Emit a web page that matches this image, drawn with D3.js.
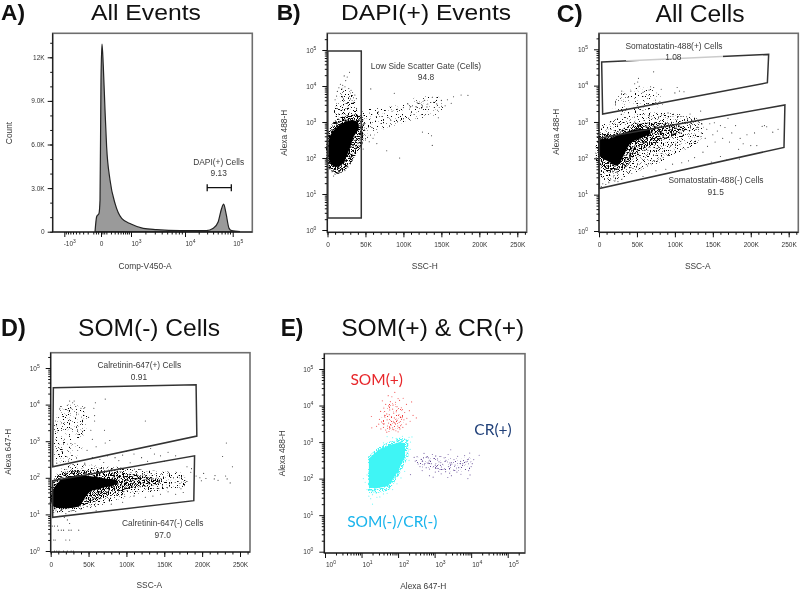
<!DOCTYPE html>
<html>
<head>
<meta charset="utf-8">
<script src="https://cdnjs.cloudflare.com/ajax/libs/d3/7.8.5/d3.min.js"></script>
<style>
  html, body { margin: 0; background: #fff; }
  svg { display: block; font-family: "Liberation Sans", Arial, sans-serif; filter: blur(0.3px); }
  .tick text { font-size: 6.5px; fill: #333; }
  .tick line, .edge { stroke: #111; }
  .domain { display: none; }
  .note { font-size: 8.4px; fill: #3a3a3a; text-anchor: middle; }
  .title { fill: #111; text-anchor: middle; }
  .tag { font-weight: bold; fill: #111; }
  .pop { font-family: Lato, "Open Sans", sans-serif; font-size: 15.5px; text-anchor: middle; }
  .gate { fill: none; stroke: #333; stroke-width: 1.5; }
</style>
</head>
<body>
<svg id="chart" width="800" height="590"></svg>
<script>
{
  /* Panel A: histogram of Comp-V450-A */
  var histChannel = [-81, -57, -25, -12, 0, 15, 36, 65, 95, 166, 295, 524, 1000, 1780, 3160, 8130, 28400, 39400, 50000, 58800, 64800, 72600, 84000, 95000, 142000];
  var histCount = [0, 1030, 1260, 2180, 10440, 12900, 11360, 8375, 5850, 3560, 1950, 920, 530, 230, 140, 70, 70, 230, 690, 1600, 1900, 1260, 230, 70, 0];
  var biexTicks = [-1000, 0, 1000, 10000, 100000];
  var countTicks = [0, 3000, 6000, 9000, 12000];
  var dapiBracket = [29400, 93600];

  /* Scatter panels: [SSC in thousands, log10 of intensity].
     Core, Dense, Sparse and Faint are outlines of the areas where the dots are too many to read one by one */
  var bCore = [[1.2,2.2],[3,2.6],[10.4,2.82],[21.3,2.98],[32.3,3.05],[39.8,3],[41.1,2.82],[34.5,2.59],[30.1,2.31],[24.8,2.03],[19.1,1.82],[10.4,1.75],[3,1.89]];
  var bDense = [[0.8,1.75],[1.6,2.75],[12.5,3.08],[39,3.2],[46.5,3.12],[47,2.45],[38,2.12],[27,1.75],[12.5,1.56]];
  var bSparse = [[9,3.15],[13,3.6],[20,3.95],[30,3.85],[37,3.5],[40,3.15]];
  var bFaint = [[45,3.28],[80,3.42],[122,3.7],[150,3.65],[150,3.3],[110,3.05],[80,2.85],[45,2.5]];
  var bDots = [[29,4.38],[26,4.25],[22,4.28],[24,4.15],[20,4.02],[17,4.05],[15,3.95],[19,3.92],[23,3.98],[28,3.93],[31,3.88],[13,3.85],[33,3.82],[36,3.75],[12,3.72],[38,3.65],[10,3.62],[34,3.55],
    [67,3.28],[85,3.3],[92,3.35],[100,3.4],[106,3.5],[112,3.45],[118,3.55],[124,3.48],[128,3.6],[132,3.5],[138,3.68],[140,3.55],[144,3.5],[146,3.12],[150,3.6],[155,3.45],[158,3.62],[163,3.52],[166,3.7],[176,3.75],[185,3.74],
    [109,3.42],[117,3.42],[121,3.52],[125,3.42],[131,3.42],[78,2.2],[95,2],[125,2.72],[133,2.68],[138,2.35],[137,2.62],[57,3.92],[88,3.8],[50,2.5],[55,2.45],[60,2.55],[65,2.4],
    [47,2.25],[40,2.4],[38,2.3],[36,2.15],[33,2.05],[30,1.9],[27,1.75],[23,1.65],[18,1.6],[14,1.58],[10,1.55],[8,1.5],[6,1.62],[4,1.7]];
  var bGate = [[0.4,4.97],[44.5,4.97],[44.5,0.33],[0.4,0.33]];

  var cCore = [[1,2.5],[15,2.55],[30,2.68],[50,2.8],[66,2.78],[68,2.68],[58,2.58],[42,2.42],[32,2.05],[24,1.8],[12,1.92],[2,2.05]];
  var cDense = [[0.3,2.6],[20,2.72],[50,2.95],[95,2.95],[115,2.8],[90,2.55],[70,2.35],[50,2.1],[35,1.75],[20,1.6],[3,1.75]];
  var cSparse = [[0.3,2.8],[25,3.1],[60,3.25],[110,3.2],[135,3],[135,2.55],[100,2.1],[70,1.8],[40,1.55],[15,1.35],[1,1.5]];
  var cFaint = [[18,3.25],[30,3.8],[70,3.9],[85,3.5],[60,3.3],[30,3.2]];
  var cDots = [[72,4.38],[52,4.2],[51,4.1],[47,4.05],[53,3.98],[68,3.97],[72,3.95],[30,3.85],[34,3.78],[42,3.85],[58,3.82],[66,3.88],[82,3.9],[103,3.95],[106,3.85],[100,3.8],[112,3.83],[91,3.25],[134,3.3],[120,3.22],[152,2.98],
    [130,2.85],[135,2.7],[140,2.55],[142,2.8],[146,2.95],[150,2.65],[153,2.45],[156,2.75],[160,2.9],[163,2.55],[166,2.85],[170,3.1],[172,2.45],[175,2.7],[180,2.9],[184,2.25],[186,2.55],[190,2.4],[195,2.65],[200,2.35],[205,2.7],[208,2.35],[215,2.88],[218,2.9],[221,2.87],[229,2.72],[236,2.8],[160,2.05],[148,1.9],[168,1.95],[185,1.98],[143,2.33],[137,2.17],[126,2.02],[118,1.93],[109,1.88],[97,1.84],[88,1.7],[75,1.66],[58,1.5],
    [5,1.3],[9,1.28],[13,1.33],[17,1.25],[21,1.38],[25,1.36],[30,1.42],[3,1.22]];
  var cSomPlusGate = [[3.5,4.65],[223.6,4.86],[221.9,4.08],[4.8,3.22]];
  var cSomMinusGate = [[0.4,2.55],[245,3.47],[243.8,2.3],[0.4,1.17]];

  var dCore = [[3,1.65],[14,1.95],[30,2.05],[50,2.05],[72,1.98],[88,1.92],[84,1.8],[68,1.72],[52,1.62],[43,1.38],[38,1.23],[3,1.23]];
  var dDense = [[2.6,1.85],[16,2.15],[47,2.2],[90,2.15],[125,2.05],[148,1.95],[140,1.82],[110,1.72],[75,1.5],[45,1.25],[2.6,1.2]];
  var dSparse = [[2.6,1.9],[20,2.33],[70,2.33],[130,2.2],[175,2.1],[178,1.8],[130,1.6],[90,1.4],[50,1.17],[2.6,1.1]];
  var dFaint = [[11,3.9],[46,3.9],[44,3],[36,2.55],[9,2.45]];
  var dDots = [[31,4.1],[25,4.1],[29,4.05],[72,4.15],[13,3.95],[12,3.9],[22,3.98],[27,3.9],[33,3.95],[40,3.9],[45,3.92],[59,4.05],[57,3.9],[58,3.7],[58,3.55],[50,3.65],[53,3.3],[55,3.05],[60,2.85],[71,3.3],[72,2.95],[125,3.55],[78,3.02],[48,2.75],[8,2.4],[3,2.35],
    [55,2.55],[65,2.5],[75,2.6],[85,2.55],[95,2.62],[100,2.72],[110,2.65],[120,2.55],[132,2.8],[137,2.65],[145,2.6],[155,2.7],[165,2.6],[45,2.4],[70,2.42],[90,2.47],[105,2.41],[128,2.45],[150,2.45],[180,2.3],[186,2.25],
    [185,2.15],[172,1.7],[180,1.9],[165,1.55],[175,1.6],[155,1.62],[145,1.55],[135,1.5],[125,1.47],[110,1.5],[95,1.33],[80,1.28],[60,1.1],[4,1.05],[7,1.12],[12,1.08],[15,1.14],[20,1.02],[27,1.1],[33,1.08],[40,1.15],[48,1.22],
    [202,2.12],[205,1.98],[197,2],[192,2.05],[199,1.92],[216,1.97],[217,2.06],[221,1.93],[233,1.97],[231,2.05],[237,1.86],[240,2.3],[227,2.58],[232,2.95],
    [2,0.68],[5,0.68],[9,0.68],[10,0.57],[14,0.57],[17,0.57],[24,0.57],[27,0.57],[37,0.57],[4,0.3],[6,0.3],[20,0.3],[25,0.3],[5,0],[8,0],[11,0],[17,0],[22,0],[27,0],[30,0],[22,0.85],[25,0.75],[18,0.92],[12,0.95]];
  var dCrPlusGate = [[3.5,4.46],[192,4.545],[193,3.14],[2.6,2.3]];
  var dCrMinusGate = [[2.6,1.92],[190,2.6],[189,1.375],[2.6,0.92]];

  /* Panel E: [log10 Alexa 647, log10 Alexa 488] */
  var eCyanCore = [[1.2,2.55],[1.46,2.78],[1.78,2.92],[2.05,3],[2.19,2.96],[2.19,2.6],[1.96,2.14],[1.73,1.8],[1.37,1.73],[1.2,1.78]];
  var eCyanDense = [[1.18,2.6],[1.45,2.85],[1.75,3],[2.05,3.12],[2.28,3.08],[2.28,2.6],[2,2.05],[1.75,1.68],[1.35,1.58],[1.18,1.62]];
  var eRedSparse = [[1.6,3.95],[1.85,4.1],[2.05,3.95],[2.15,3.6],[2.05,3.38],[1.65,3.35],[1.55,3.6]];
  var ePurpleFaint = [[2.5,2.55],[3,2.62],[3.6,2.55],[4,2.55],[4,2.25],[3.4,2.2],[2.9,2.28],[2.55,2.35]];
  var eCyanDots = [[1.15,2.1],[1.05,2],[1.15,1.7],[1.2,1.52],[1.3,1.56],[1.42,1.49],[1.5,1.5],[1.6,1.58],[1.7,1.6],[1.25,1.45],[1.85,1.7],[1.97,1.86],[2.08,2.02],[2.18,2.2],[2.3,2.5],[2.33,2.8],[2.34,3],[2.3,3.13],[2.38,3.14],[2.12,3.16],[1.95,3.1],[1.85,3.12],[1.7,3.15],[1.6,2.98],[1.1,1.9],[1.3,1.3]];
  var eRedDots = [[1.91,4.36],[1.73,4.27],[2,4.19],[1.83,4.24],[2.14,4.2],[1.57,4.13],[1.79,4.11],[1.93,4.09],[2.04,4.14],[1.66,4.03],[1.86,4.01],[1.97,3.97],[2.23,4.03],[2.37,4.1],[1.61,3.93],[1.74,3.99],[1.85,3.9],[2.09,3.94],[2.31,3.86],[1.52,3.84],[1.77,3.88],[1.95,3.83],[2.12,3.89],[1.69,3.77],[1.88,3.79],[2.01,3.74],[2.18,3.81],[2.41,3.73],[1.27,3.7],[1.63,3.69],[1.76,3.75],[1.9,3.66],[2.06,3.69],[2.24,3.65],[1.49,3.62],[1.7,3.61],[1.82,3.7],[1.97,3.6],[2.11,3.67],[2.5,3.66],[1.55,3.55],[1.74,3.52],[1.87,3.57],[2.03,3.54],[2.16,3.61],[2.33,3.57],[1.47,3.49],[1.62,3.5],[1.8,3.47],[1.92,3.51],[2.07,3.45],[2.22,3.49],[1.41,3.43],[1.6,3.4],[1.71,3.44],[1.85,3.39],[1.99,3.44],[2.13,3.4],[1.53,3.36],[1.66,3.33],[1.78,3.38],[1.94,3.31],[2.05,3.36],[1.28,3.39],[1.75,3.29],[1.88,3.34],[2,3.28],[1.69,3.27]];
  var ePurpleDots = [[2.52,2.6],[2.63,2.53],[2.71,2.69],[2.83,2.57],[2.94,2.66],[3.03,2.62],[2.55,2.4],[2.67,2.47],[2.77,2.58],[2.87,2.49],[2.98,2.55],[3.08,2.51],[3.17,2.44],[3.26,2.57],[3.37,2.66],[3.44,2.79],[2.47,2.48],[2.6,2.33],[2.72,2.38],[2.82,2.43],[2.91,2.41],[3.02,2.37],[3.12,2.46],[3.22,2.39],[3.31,2.5],[3.42,2.43],[3.53,2.52],[3.63,2.61],[3.71,2.47],[3.82,2.63],[3.9,2.52],[3.96,2.7],[4.22,2.64],[2.66,2.22],[2.77,2.3],[2.86,2.26],[2.97,2.33],[3.07,2.28],[3.16,2.36],[3.27,2.27],[3.38,2.33],[3.47,2.4],[3.56,2.37],[3.66,2.3],[3.77,2.41],[3.86,2.46],[4,2.33],[3.93,2.22],[4.03,2.41],[4.07,2.52],[3.18,2.13],[3.3,2.19],[3.41,2.15],[3.52,2.23],[3.61,2.18],[3.72,2.12],[3.02,2.18],[2.86,2.08],[3.91,2],[3.97,2.1],[3.36,2.03],[2.34,2.11],[2.44,2.58],[3.46,2.08],[3.11,2.2],[2.96,2.04]];

  var decades = [0, 1, 2, 3, 4, 5];
  var sscTicks = [0, 50, 100, 150, 200, 250];

  var svg = d3.select("#chart");

  // speckled fills for the merged dot areas: noise thresholded at three levels
  var defs = svg.append("defs");
  [["dense", 0.46], ["sparse", 0.585], ["faint", 0.625]].forEach(function (f) {
    var flt = defs.append("filter").attr("id", f[0]).attr("color-interpolation-filters", "sRGB")
      .attr("x", "-5%").attr("y", "-5%").attr("width", "110%").attr("height", "110%");
    flt.append("feTurbulence").attr("type", "fractalNoise").attr("baseFrequency", 0.85).attr("numOctaves", 2).attr("seed", 4).attr("result", "noise");
    flt.append("feColorMatrix").attr("in", "noise").attr("type", "matrix")
      .attr("values", "0 0 0 0 0 0 0 0 0 0 0 0 0 0 0 9 0 0 0 " + (-9 * f[1])).attr("result", "speck");
    flt.append("feComposite").attr("in", "SourceGraphic").attr("in2", "speck").attr("operator", "in");
  });

  var logMinor = [];
  decades.forEach(function (e) {
    d3.range(2, 10).forEach(function (m) { if (e < 5 || m < 3) logMinor.push(e + Math.log10(m)); });
  });
  var sscMinor = d3.range(0, 261, 10);

  function outline(x, y) {
    return d3.line().x(function (d) { return x(d[0]); }).y(function (d) { return y(d[1]); });
  }

  // writes 10 with the decade as a raised exponent
  function powerLabel(sel, fmt) {
    sel.selectAll(".tick text").each(function (d) {
      var t = d3.select(this).text(null);
      t.append("tspan").text(fmt(d));
      t.append("tspan").attr("dy", "-3").attr("font-size", "5px").text(Math.abs(d));
    });
  }

  function frame(box) {
    var g = svg.append("g");
    g.append("rect")
      .attr("x", box.left).attr("y", box.top)
      .attr("width", box.right - box.left).attr("height", box.bottom - box.top)
      .attr("fill", "none").attr("stroke", "#6e6e6e").attr("stroke-width", 1.6);
    g.append("line").attr("class", "edge").attr("x1", box.left).attr("x2", box.left).attr("y1", box.top).attr("y2", box.bottom);
    g.append("line").attr("class", "edge").attr("x1", box.left).attr("x2", box.right).attr("y1", box.bottom).attr("y2", box.bottom);
    return g;
  }

  function logAxisY(box, y) {
    var g = svg.append("g").attr("transform", "translate(" + box.left + ",0)");
    g.append("g").call(d3.axisLeft(y).tickValues(logMinor).tickSize(2.5).tickFormat(""));
    g.append("g").call(d3.axisLeft(y).tickValues(decades).tickSize(5).tickPadding(6).tickFormat(function (d) { return d; }))
      .call(powerLabel, function () { return "10"; });
  }

  function sscAxisX(box, x) {
    var g = svg.append("g").attr("transform", "translate(0," + box.bottom + ")");
    g.append("g").call(d3.axisBottom(x).tickValues(sscMinor).tickSize(2.5).tickFormat(""));
    g.append("g").call(d3.axisBottom(x).tickValues(sscTicks).tickSize(5).tickPadding(5)
      .tickFormat(function (d) { return d ? d + "K" : "0"; }));
  }

  function note(text, x, y) {
    svg.append("text").attr("class", "note").attr("x", x).attr("y", y).text(text);
  }
  function sideNote(text, x, y) {
    svg.append("text").attr("class", "note").attr("transform", "translate(" + x + "," + y + ") rotate(-90)").text(text);
  }
  // tag and title are stretched to the widths of the originals
  function heading(tag, tagX, tagWide, text, textX, textWide, base, size) {
    svg.append("text").attr("class", "tag").attr("x", tagX).attr("y", base).attr("font-size", size)
      .attr("textLength", tagWide).attr("lengthAdjust", "spacingAndGlyphs").text(tag);
    svg.append("text").attr("class", "title").attr("x", textX).attr("y", base).attr("font-size", size)
      .attr("textLength", textWide).attr("lengthAdjust", "spacingAndGlyphs").text(text);
  }

  function dots(data, x, y, color, r, opacity) {
    svg.append("g").attr("fill", color).attr("fill-opacity", opacity)
      .selectAll("circle").data(data).join("circle")
      .attr("cx", function (d) { return x(d[0]); })
      .attr("cy", function (d) { return y(d[1]); })
      .attr("r", r);
  }

  function blob(data, x, y, color, speck, curve) {
    var p = svg.append("path")
      .attr("d", outline(x, y).curve(curve || d3.curveCatmullRomClosed)(data))
      .attr("fill", color);
    if (speck) p.attr("filter", "url(#" + speck + ")");
  }

  function gate(data, x, y) {
    svg.append("path").attr("class", "gate").attr("d", outline(x, y).curve(d3.curveLinearClosed)(data));
  }

  function scatterPanel(box, x0, x250, y0, y5, layers, pts) {
    var x = d3.scaleLinear().domain([0, 250]).range([x0, x250]);
    var y = d3.scaleLinear().domain([0, 5]).range([y0, y5]);
    frame(box);
    logAxisY(box, y);
    sscAxisX(box, x);
    blob(layers.faint, x, y, "#000", "faint");
    blob(layers.sparse, x, y, "#000", "sparse");
    blob(layers.dense, x, y, "#000", "dense");
    blob(layers.core, x, y, "#000");
    dots(pts, x, y, "#000", 0.55, 0.8);
    return { x: x, y: y };
  }

  /* A */
  {
    var boxA = { left: 52.7, right: 252.3, top: 33.3, bottom: 232 };
    var biex = function (v) { return Math.sign(v) * Math.log10(1 + Math.abs(v) / 300); };
    var xBiex = d3.scaleLinear().domain(biexTicks.map(biex)).range([64.3, 101, 131, 185, 232.7]);
    var xA = function (v) { return xBiex(biex(v)); };
    var yA = d3.scaleLinear().domain([0, 12000]).range([231.7, 57.3]);

    frame(boxA);

    var gy = svg.append("g").attr("transform", "translate(" + boxA.left + ",0)");
    gy.append("g").call(d3.axisLeft(yA).tickValues(d3.range(0, 14000, 1000)).tickSize(2.5).tickFormat(""));
    gy.append("g").call(d3.axisLeft(yA).tickValues(countTicks).tickSize(5).tickPadding(3)
      .tickFormat(function (d) { return d ? (d / 1000).toFixed(d >= 12000 ? 0 : 1) + "K" : "0"; }));

    // biexponential axis drawn through a shifted copy of the decade scale
    var xAxisScale = d3.scaleLinear().domain(biexTicks).range(biexTicks.map(xA));
    var minorX = [-900, -800, -700, -600, -500, -400, -300, -200, -100, -60, -30, 30, 60, 100, 200, 300, 400, 500, 600, 700, 800, 900];
    [1000, 10000].forEach(function (b) { d3.range(2, 10).forEach(function (m) { minorX.push(b * m); }); });
    var gx = svg.append("g").attr("transform", "translate(0," + boxA.bottom + ")");
    gx.append("g").selectAll("line").data(minorX).join("line")
      .attr("x1", xA).attr("x2", xA).attr("y1", 0).attr("y2", 2.5).attr("stroke", "#111");
    gx.append("g").call(d3.axisBottom(xAxisScale).tickValues(biexTicks).tickSize(5).tickPadding(4)
      .tickFormat(function (d) { return d; }))
      .selectAll(".tick text").each(function (d) {
        var t = d3.select(this).text(null);
        if (d === 0) { t.text("0"); return; }
        var e = Math.round(Math.log10(Math.abs(d)));
        t.attr("dx", 5);
        t.append("tspan").text(d < 0 ? "-10" : "10");
        t.append("tspan").attr("dy", "-3").attr("font-size", "5px").text(e);
      });

    var hist = d3.zip(histChannel, histCount);
    svg.append("path")
      .attr("d", d3.area().curve(d3.curveMonotoneX).x(function (d) { return xA(d[0]); }).y0(yA(0)).y1(function (d) { return yA(d[1]); })(hist))
      .attr("fill", "#9a9a9a").attr("stroke", "#222").attr("stroke-width", 1.2);

    svg.append("path")
      .attr("d", "M" + xA(dapiBracket[0]) + "," + (yA(3030) - 3.5) + "v7m0,-3.5H" + xA(dapiBracket[1]) + "m0,-3.5v7")
      .attr("fill", "none").attr("stroke", "#111").attr("stroke-width", 1.3);

    note("DAPI(+) Cells", 218.7, 164.5);
    note("9.13", 218.7, 176);
    note("Comp-V450-A", 145, 269);
    sideNote("Count", 12, 133);
    heading("A)", 1, 24, "All Events", 146, 110, 20, 22);
  }

  /* B */
  {
    var pB = scatterPanel({ left: 327.3, right: 526.7, top: 33.3, bottom: 232.3 }, 327.5, 517.3, 230, 50,
      { core: bCore, dense: bDense, sparse: bSparse, faint: bFaint }, bDots);
    gate(bGate, pB.x, pB.y);
    note("Low Side Scatter Gate (Cells)", 426, 68.5);
    note("94.8", 426, 80);
    note("SSC-H", 424.7, 269);
    sideNote("Alexa 488-H", 287, 132.7);
    heading("B)", 276.7, 24, "DAPI(+) Events", 426, 170, 20, 22);
  }

  /* C */
  {
    var pC = scatterPanel({ left: 599, right: 798.3, top: 33.3, bottom: 232.3 }, 599, 788.7, 231, 49.3,
      { core: cCore, dense: cDense, sparse: cSparse, faint: cFaint }, cDots);
    gate(cSomPlusGate, pC.x, pC.y);
    gate(cSomMinusGate, pC.x, pC.y);
    svg.append("rect").attr("x", 626).attr("y", 39).attr("width", 97).attr("height", 22).attr("fill", "#fff").attr("fill-opacity", 0.75);
    note("Somatostatin-488(+) Cells", 674, 48.5);
    note("1.08", 673.3, 60);
    note("Somatostatin-488(-) Cells", 716, 183);
    note("91.5", 715.7, 195);
    note("SSC-A", 697.7, 269);
    sideNote("Alexa 488-H", 558.5, 131.7);
    heading("C)", 556.7, 26, "All Cells", 700, 89, 21.5, 23);
  }

  /* D */
  {
    var pD = scatterPanel({ left: 50.7, right: 250, top: 352.7, bottom: 552 }, 50.7, 240, 551, 368,
      { core: dCore, dense: dDense, sparse: dSparse, faint: dFaint }, dDots);
    gate(dCrPlusGate, pD.x, pD.y);
    gate(dCrMinusGate, pD.x, pD.y);
    note("Calretinin-647(+) Cells", 139.3, 368);
    note("0.91", 139, 379.5);
    note("Calretinin-647(-) Cells", 162.7, 526);
    note("97.0", 162.7, 538);
    note("SSC-A", 149.3, 588);
    sideNote("Alexa 647-H", 10.5, 451.7);
    heading("D)", 1, 24.7, "SOM(-) Cells", 149, 142, 336, 24);
  }

  /* E */
  {
    var boxE = { left: 324.3, right: 525, top: 353.7, bottom: 553 };
    var xE = d3.scaleLinear().domain([0, 5]).range([325, 507.7]);
    var yE = d3.scaleLinear().domain([0, 5]).range([551.7, 369]);
    frame(boxE);
    logAxisY(boxE, yE);

    var gxE = svg.append("g").attr("transform", "translate(0," + boxE.bottom + ")");
    gxE.append("g").call(d3.axisBottom(xE).tickValues(logMinor).tickSize(2.5).tickFormat(""));
    gxE.append("g").call(d3.axisBottom(xE).tickValues(decades).tickSize(5).tickPadding(4).tickFormat(function (d) { return d; }))
      .call(powerLabel, function () { return "10"; })
      .selectAll(".tick text").attr("dx", 5.5);

    blob(eCyanDense, xE, yE, "#3ff5f5", "dense", d3.curveLinearClosed);
    blob(eCyanCore, xE, yE, "#3ff5f5", null, d3.curveLinearClosed);
    dots(eCyanDots, xE, yE, "#3ff5f5", 0.6, 0.7);
    blob(eRedSparse, xE, yE, "#ee3030", "faint");
    dots(eRedDots, xE, yE, "#ee3030", 0.6, 0.75);
    blob(ePurpleFaint, xE, yE, "#5c4190", "faint");
    dots(ePurpleDots, xE, yE, "#5c4190", 0.6, 0.75);

    svg.append("text").attr("class", "pop").attr("x", 376.7).attr("y", 385).attr("fill", "#e8262a").text("SOM(+)");
    svg.append("text").attr("class", "pop").attr("x", 493).attr("y", 435).attr("fill", "#1f3f78").text("CR(+)");
    svg.append("text").attr("class", "pop").attr("x", 392.3).attr("y", 526.7).attr("fill", "#19b4ec").text("SOM(-)/CR(-)");

    note("Alexa 647-H", 423.3, 589);
    sideNote("Alexa 488-H", 284.5, 453.3);
    heading("E)", 280.7, 22.7, "SOM(+) & CR(+)", 432.7, 183, 336, 24);
  }
}
</script>
</body>
</html>
